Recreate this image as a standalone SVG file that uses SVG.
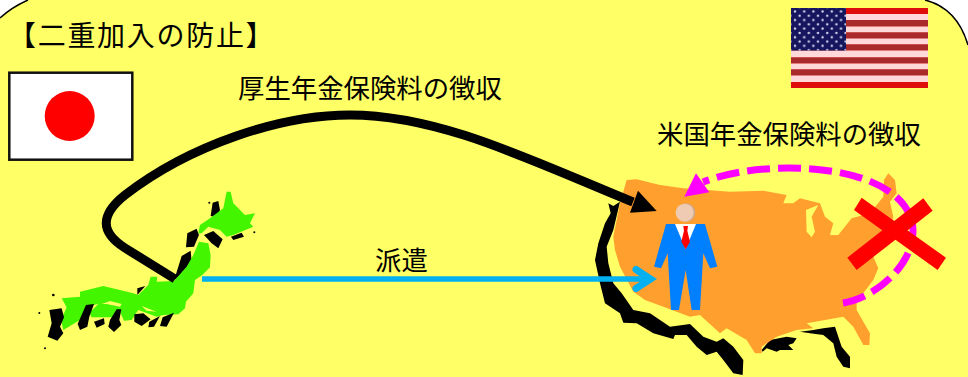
<svg xmlns="http://www.w3.org/2000/svg" width="968" height="377" viewBox="0 0 968 377">
<style>
text{font-family:"Noto Sans CJK JP","Liberation Sans",sans-serif;fill:#000;font-size:26.4px}
.blk{fill:#000}
.grn{fill:#44f500}
.gap{fill:#ffff66}
.stripeW{fill:#ffd9d9}
.stripeR{fill:#a82a2a}
</style>
<defs>
<pattern id="stars" x="793" y="10" width="18.4" height="8.6" patternUnits="userSpaceOnUse">
<circle cx="2" cy="1.5" r="1.2" fill="#d8d8f0"/><circle cx="11.2" cy="1.5" r="1.2" fill="#d8d8f0"/>
<circle cx="6.6" cy="5.8" r="1.2" fill="#d8d8f0"/><circle cx="15.8" cy="5.8" r="1.2" fill="#d8d8f0"/>
</pattern>
<filter id="soft" x="0" y="0" width="1" height="1"><feGaussianBlur stdDeviation="0.6"/></filter>
</defs>
<rect width="968" height="377" fill="#fff"/>
<path id="panel" d="M0,18Q12,7 28,0H925Q957,8 968,45V377H0Z" fill="#ffff66"/>
<path d="M0,18Q12,7 28,0M925,0Q957,8 968,45" fill="none" stroke="#000" stroke-width="1.5"/>
<text id="title" x="8" y="46" style="font-size:28px;letter-spacing:1.7px">【二重加入の防止】</text>
<g id="flag-jp"><rect x="9.3" y="72.7" width="123" height="87" fill="#fff" stroke="#111" stroke-width="2.5"/><circle cx="69.7" cy="116" r="25" fill="#f00"/></g>
<g id="flag-us" filter="url(#soft)">
<rect x="791" y="8" width="137" height="80" fill="#e01010"/>
<rect class="stripeW" x="791" y="14" width="137" height="6"/><rect class="stripeR" x="791" y="20" width="137" height="6.5"/>
<rect class="stripeW" x="791" y="26.5" width="137" height="6"/><rect class="stripeR" x="791" y="32.5" width="137" height="6"/>
<rect class="stripeW" x="791" y="38.5" width="137" height="6"/><rect class="stripeR" x="791" y="44.5" width="137" height="6"/>
<rect class="stripeW" x="791" y="50.5" width="137" height="7"/><rect class="stripeR" x="791" y="57.5" width="137" height="6"/>
<rect class="stripeW" x="791" y="63.5" width="137" height="6"/><rect class="stripeR" x="791" y="69.5" width="137" height="6"/>
<rect class="stripeW" x="791" y="75.5" width="137" height="6.5"/>
<rect x="791" y="8" width="55" height="42.5" fill="#14145f"/><rect x="791" y="8" width="55" height="42.5" fill="url(#stars)"/>
</g>
<g id="japan" transform="translate(0,180) scale(.3333)">
<path class="blk" d="M638,68L655,63L660,90L650,112L632,108ZM562,160L590,146L597,165L582,200L558,202ZM693,170L725,158L732,170L700,180ZM545,228L572,212L575,245L535,290L522,302ZM412,325L436,318L412,345Z"/>
<circle class="blk" cx="118" cy="399" r="3"/><circle class="blk" cx="135" cy="505" r="3"/><circle class="blk" cx="160" cy="345" r="4"/><circle class="blk" cx="763" cy="157" r="3"/><circle class="blk" cx="628" cy="68" r="3"/>
<path class="grn" d="M600,135L630,115L670,85L680,35L692,35L700,70L735,105L765,100L750,130L760,140L700,165L680,170L660,150L625,140L605,160L595,160ZM597,185L625,190L632,225L630,262L607,285L585,300L580,340L558,365L555,385L535,403L490,405L470,410L430,395L415,390L395,420L372,422L360,395L352,412L300,412L275,412L270,402L250,420L240,420L190,450L183,420L200,382L185,355L240,350L240,335L310,318L400,340L415,345L445,315L452,290L472,290L470,305L522,303L560,260L580,225Z"/>
<path class="gap" d="M305,372L330,363L365,372L360,380L320,372ZM425,378L470,395L440,392ZM280,375L295,372L275,392Z"/>
<path class="blk" d="M258,375L282,372L268,410L262,440L240,450L233,432ZM350,388L364,388L358,420L364,435L342,456L325,440L330,420ZM282,425L312,415L314,432L290,443ZM403,403L430,400L452,418L425,438L403,425ZM448,425L480,408L462,440L445,442ZM488,412L522,398L500,440L480,438ZM612,165L640,153L668,178L655,205L635,190ZM148,390L185,385L192,412L180,440L190,460L172,482L143,470L155,430Z"/>
</g>
<g id="usa" transform="translate(580,160) scale(.3333)">
<path class="blk" d="M85,130L100,138L120,125L100,210L80,260L85,310L100,370L125,400L160,450L210,460L270,500L330,492L370,530L410,545L430,535L460,560L490,600L488,645L460,640L430,600L410,575L380,585L350,560L320,525L285,525L280,537L220,520L170,490L130,488L120,460L75,430L60,370L45,300L55,250L75,190L92,160ZM660,515L700,510L730,505L765,500L785,560L810,590L810,625L790,620L770,590L760,550L730,525L690,520ZM545,570L570,540L620,530L650,535L640,550L625,555L640,570L600,570L590,575L560,565L548,575Z"/>
<path fill="#ff9f2e" d="M140,60L170,58L240,75L310,85L450,95L550,92L620,105L610,130L640,130L660,115L720,130L735,170L760,190L750,225L775,225L815,175L870,160L910,110L912,60L925,40L945,60L950,100L930,125L940,170L930,210L880,290L895,325L880,360L830,425L830,450L870,520L868,555L850,555L820,500L790,470L680,490L700,505L650,510L590,530L545,560L545,580L525,580L500,540L440,505L420,520L360,465L330,470L250,440L195,420L160,395L120,320L105,270L100,230L120,130Z"/>
<path class="gap" d="M678,150L715,135L695,170L705,215L695,232L680,215Z"/>
</g>
<g id="connectors" fill="none">
<path d="M175,279L125,248C100,232 100,215 125,195C190,145 280,115 350,115C440,115 530,160 633,202" stroke="#000" stroke-width="9"/>
<path d="M630,212.7L638,190.7L656.7,211Z" fill="#000"/>
<path d="M202,279H648" stroke="#00b0f0" stroke-width="5.5"/>
<path d="M636,269.5L650.5,279L636,288.5" stroke="#00b0f0" stroke-width="7" stroke-linecap="round"/>
<path d="M843,303C875,298 914,265 913,230C912,200 880,178 830,171C790,165 740,168 703,182" stroke="#f0f" stroke-width="7" stroke-dasharray="23 8"/>
<path d="M696,173.3L709.3,192.3L684.3,196.7Z" fill="#f0f"/>
</g>
<g id="person" transform="translate(580,160) scale(.3333)">
<circle cx="318" cy="158" r="28" fill="#cfa98f"/><circle cx="314" cy="158" r="27" fill="#eecbb2"/>
<path fill="#0080ff" d="M258,192L375,192L412,320L390,325L370,280L360,450L335,450L317,330L297,450L273,450L263,280L243,325L222,320Z"/>
<path fill="#fff" d="M285,192L348,192L317,268Z"/>
<path fill="#f00" d="M310,198L324,198L322,212L330,245L317,268L304,245L312,212Z"/>
</g>
<g id="cross" transform="translate(580,160) scale(.3333)" fill="#f00">
<path d="M845,113L1098,293L1073,330L822,150Z"/><path d="M1030,115L1058,152L830,330L802,293Z"/>
</g>
<text id="label-kosei" x="238" y="98">厚生年金保険料の徴収</text>
<text id="label-us" x="657" y="144">米国年金保険料の徴収</text>
<text id="label-haken" x="375" y="270">派遣</text>
</svg>
